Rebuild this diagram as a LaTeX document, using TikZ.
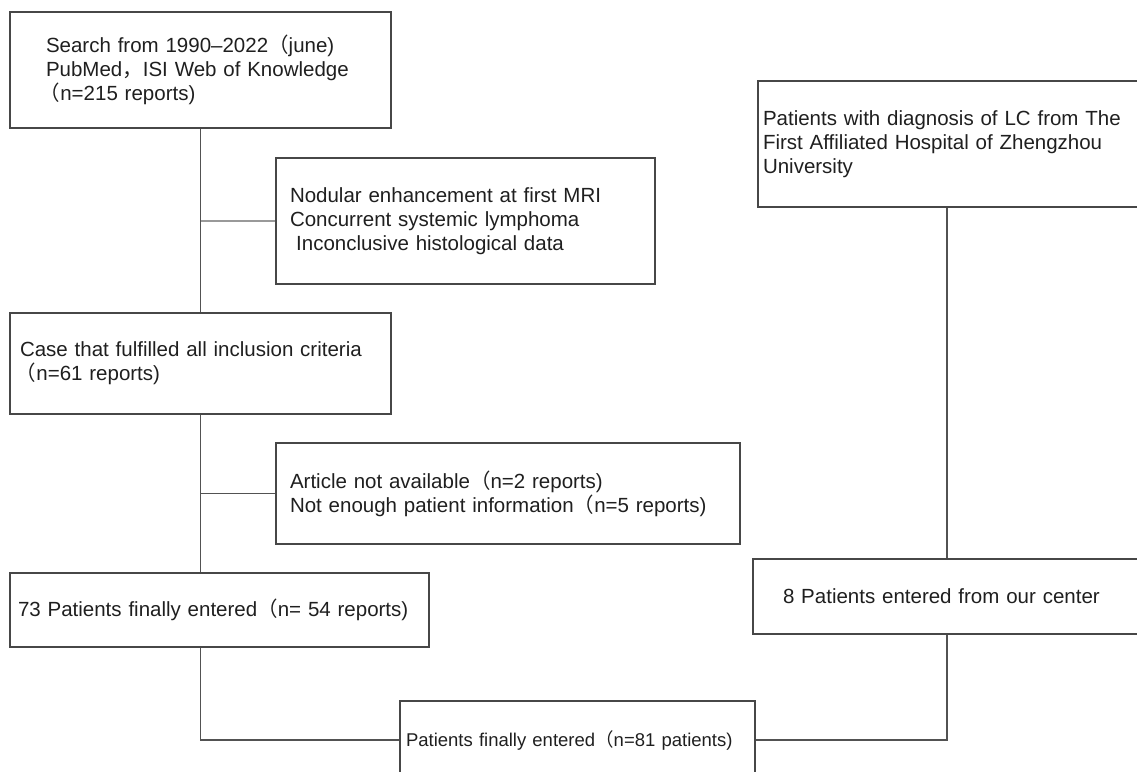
\documentclass[tikz,border=0pt]{standalone}
\usepackage{fontspec}
\setmainfont{Liberation Sans}
\newfontfamily\cjk{Noto Sans CJK SC}
\newcommand{\flp}{{\cjk （}}
\newcommand{\fcm}{{\cjk ，}}
\begin{document}
\begin{tikzpicture}[
    x=1pt, y=-1pt,
    font=\fontsize{20.5}{24}\selectfont,
    box/.style={
        draw=black!72, line width=1.2pt, rectangle, align=left,
        text=black!88, inner ysep=0pt
    },
    link/.style={draw=black!68, line width=1.2pt},
    faint/.style={draw=black!40, line width=1.2pt}
]
\clip (0,0) rectangle (1137,771);

\node[box, text width=309pt, inner xsep=36pt, minimum height=116pt] (search) at (200.5,70)
    {Search from 1990--2022\flp june)\\PubMed\fcm ISI Web of Knowledge\\\hspace*{-0.3em}\flp n=215 reports)};

\node[box, text width=351pt, inner xsep=14pt, minimum height=126pt] (nodular) at (465.5,221)
    {Nodular enhancement at first MRI\\Concurrent systemic lymphoma\\\hspace*{0.3em}Inconclusive histological data};

\node[box, text width=361pt, inner xsep=10pt, minimum height=101pt] (fulfilled) at (200.5,363.5)
    {Case that fulfilled all inclusion criteria\\\hspace*{-0.2em}\flp n=61 reports)};

\node[box, text width=436pt, inner xsep=14pt, minimum height=101pt] (notavail) at (508,493.5)
    {Article not available\flp n=2 reports)\\Not enough patient information\flp n=5 reports)};

\node[box, text width=403pt, inner xsep=8pt, minimum height=74pt] (entered) at (219.5,610)
    {73 Patients finally entered\flp n= 54 reports)};

\node[box, text width=382pt, inner xsep=5pt, minimum height=126pt] (zhengzhou) at (954,144)
    {Patients with diagnosis of LC from The\\First Affiliated Hospital of Zhengzhou\\University};

\node[box, text width=337pt, inner xsep=30pt, minimum height=75pt] (center) at (951.5,596.5)
    {8 Patients entered from our center};

\node[box, text width=343pt, inner xsep=6pt, minimum height=78pt,
      font=\fontsize{18.5}{24}\selectfont] (final) at (577.5,740)
    {Patients finally entered\flp n=81 patients)};

\coordinate (rail) at (947,0);

\draw[link] (search.south) -- (fulfilled.north);
\draw[faint] (nodular.west) -- (nodular.west -| search.south);
\draw[link] (fulfilled.south) -- (fulfilled.south |- entered.north);
\draw[link] (notavail.west) -- (notavail.west -| fulfilled.south);
\draw[link] (entered.south -| fulfilled.south) |- (final.west);
\draw[link] (zhengzhou.south -| rail) -- (center.north -| rail);
\draw[link] (center.south -| rail) |- (final.east);
\end{tikzpicture}
\end{document}
